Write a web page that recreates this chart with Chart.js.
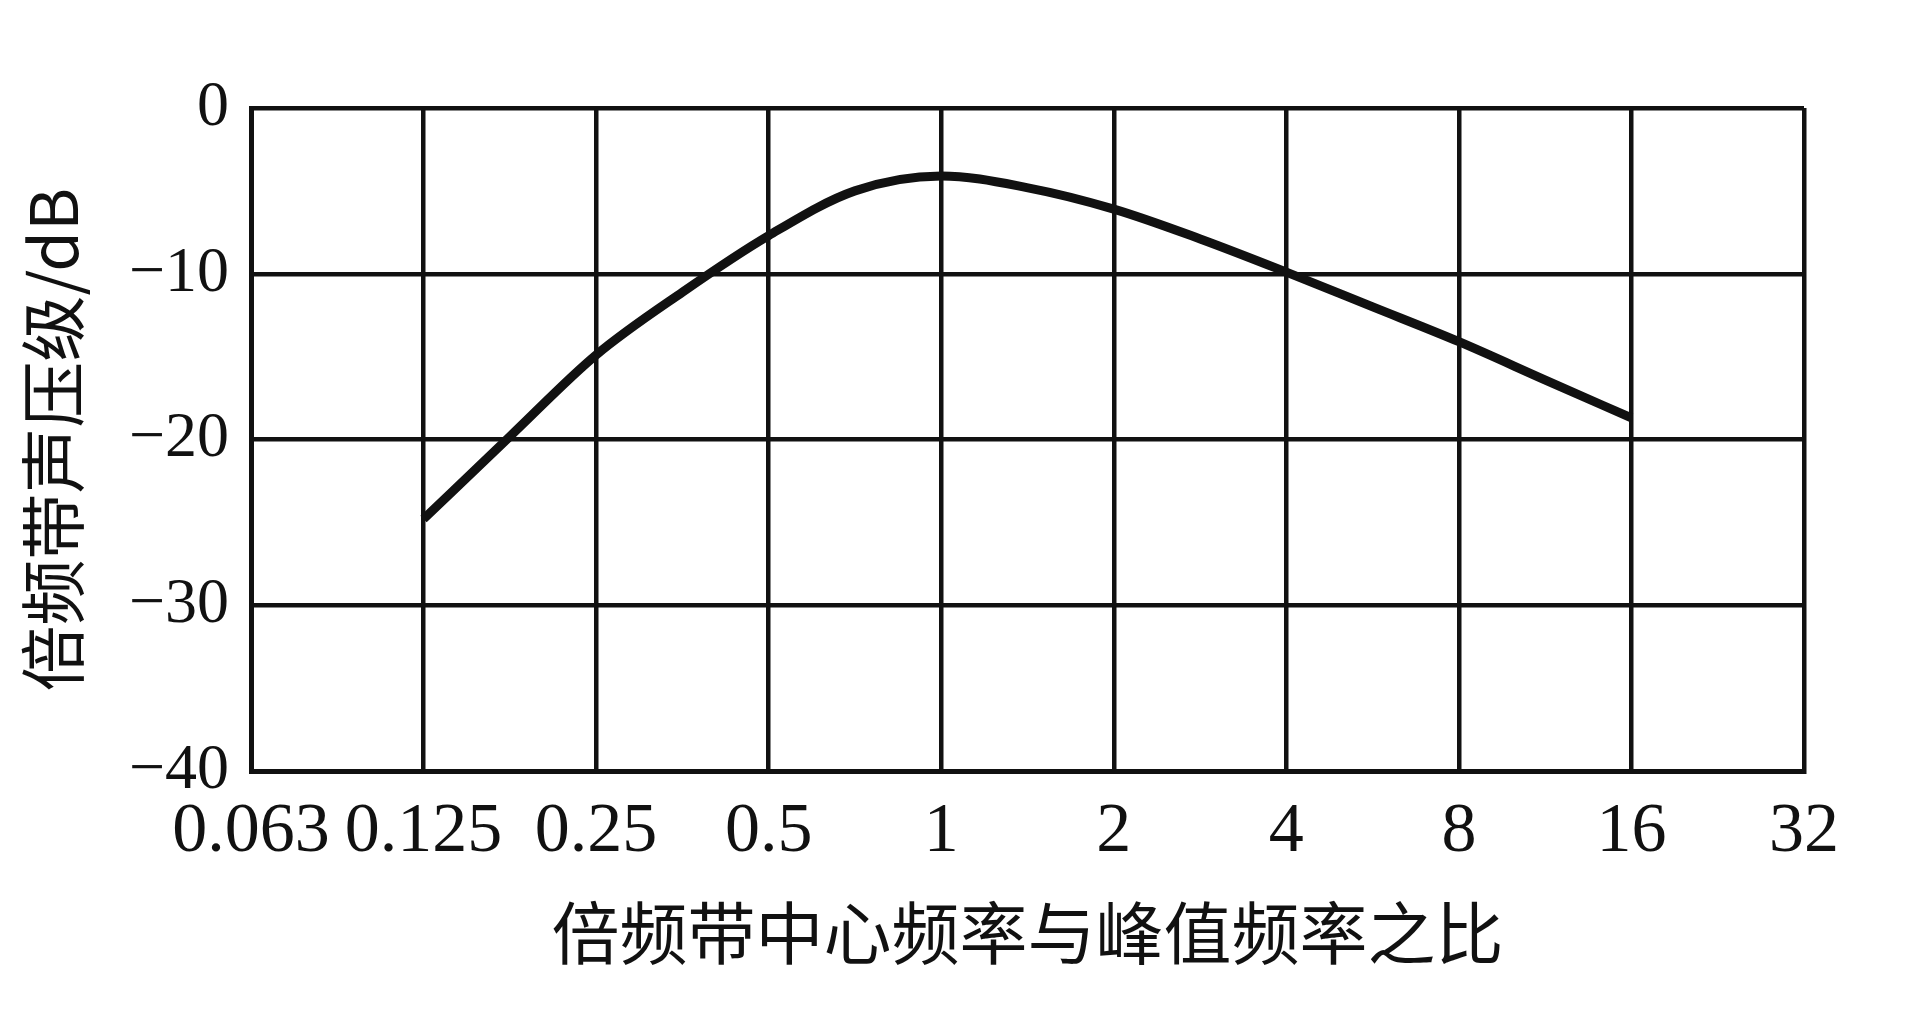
<!DOCTYPE html>
<html>
<head>
<meta charset="utf-8">
<script src="https://cdn.jsdelivr.net/npm/chart.js@4"></script>
<style>
  html, body { margin: 0; padding: 0; background: #fff; }
  #wrap { width: 1920px; height: 1012px; }
</style>
</head>
<body>
<div id="wrap"><canvas id="octave-chart"></canvas></div>
<script>
const ctx = document.getElementById('octave-chart');

// octave band ratio ticks (log2 spaced) and their printed labels
const bandRatios = [0.0625, 0.125, 0.25, 0.5, 1, 2, 4, 8, 16, 32];
const bandLabels = ['0.063', '0.125', '0.25', '0.5', '1', '2', '4', '8', '16', '32'];

// curve, half-octave steps
const curveRatio = [0.125, 0.177, 0.25, 0.354, 0.5, 0.707, 1, 1.41, 2, 2.83, 4, 5.66, 8, 11.3, 16];
const curveDb = [-24.8, -19.8, -14.9, -11.1, -7.7, -5.0, -4.1, -4.8, -6.1, -7.9, -9.9, -12.0, -14.1, -16.4, -18.7];

const yTicks = [0, -10, -20, -30, -40];

const ink = '#111';
const serif = "'Liberation Serif', 'DejaVu Serif', serif";
const cjk = "'Noto Sans CJK SC', 'Noto Sans', sans-serif";

let points = [];
curveRatio.forEach((r, i) => {
    points.push({x: r, y: curveDb[i]});
});

new Chart(ctx, {
    type: 'line',
    data: {
        datasets: [{
            data: points,
            borderColor: ink,
            borderWidth: 9,
            pointRadius: 0,
            cubicInterpolationMode: 'monotone',
            fill: false
        }]
    },
    options: {
        responsive: true,
        maintainAspectRatio: false,
        animation: false,
        layout: {
            padding: {top: 108, right: 116, bottom: 0, left: 0}
        },
        plugins: {
            legend: {display: false},
            tooltip: {enabled: false}
        },
        scales: {
            x: {
                type: 'logarithmic',
                min: 0.0625,
                max: 32,
                afterBuildTicks: (scale) => {
                    scale.ticks = bandRatios.map(v => ({value: v}));
                },
                afterFit: (scale) => { scale.height = 241; },
                ticks: {
                    autoSkip: false,
                    maxRotation: 0,
                    padding: 20,
                    color: ink,
                    font: {family: serif, size: 70},
                    callback: (value, index) => bandLabels[index]
                },
                grid: {color: ink, lineWidth: 4.5, drawTicks: false},
                border: {color: ink, width: 5},
                title: {
                    display: true,
                    text: '倍频带中心频率与峰值频率之比',
                    color: ink,
                    font: {family: cjk, size: 68},
                    padding: {top: 0, bottom: 38}
                }
            },
            y: {
                min: -40,
                max: 0,
                afterBuildTicks: (scale) => {
                    scale.ticks = yTicks.map(v => ({value: v}));
                },
                afterFit: (scale) => { scale.width = 251; },
                ticks: {
                    padding: 22,
                    color: ink,
                    font: {family: serif, size: 64},
                    callback: (value) => value < 0 ? '\u2212' + Math.abs(value) : String(value)
                },
                grid: {color: ink, lineWidth: 4.5, drawTicks: false},
                border: {color: ink, width: 5},
                title: {
                    display: true,
                    text: '倍频带声压级/dB',
                    color: ink,
                    font: {family: cjk, size: 66},
                    padding: {top: 13, bottom: 0}
                }
            }
        }
    }
});
</script>
</body>
</html>
